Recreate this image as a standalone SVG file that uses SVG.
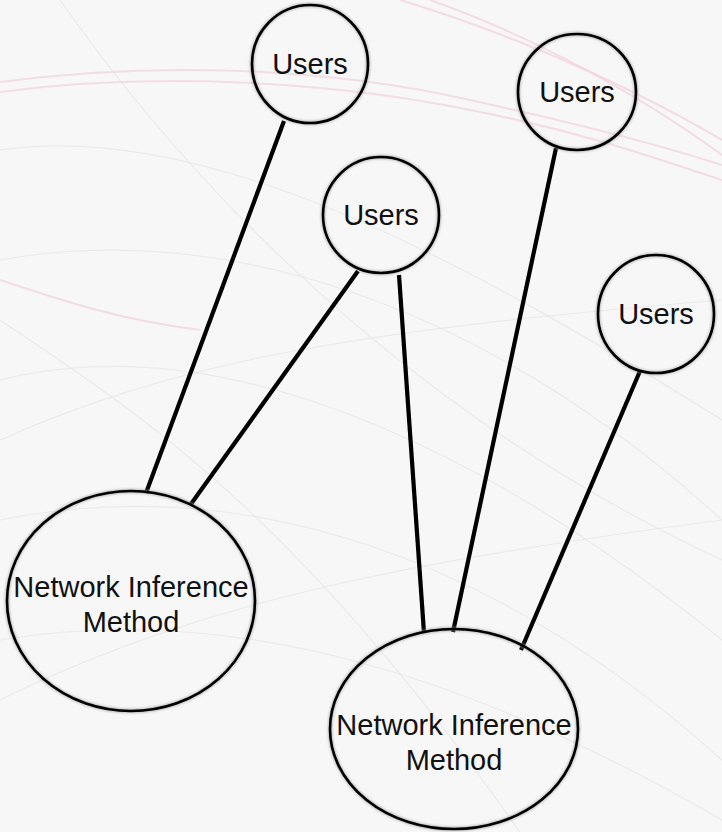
<svg xmlns="http://www.w3.org/2000/svg" width="722" height="832" viewBox="0 0 722 832">
  <defs>
    <style>
      .bg-g { fill: none; stroke: #e6e6e6; stroke-width: 1.2; opacity: 0.7; }
      .bg-p { fill: none; stroke: #f3d3de; stroke-width: 2; opacity: 0.75; }
      .node { fill: none; stroke: #000; stroke-width: 2.6; }
      .edge { stroke: #000; stroke-width: 4.2; stroke-linecap: butt; }
      .lbl { font-family: "Liberation Sans", Arial, Helvetica, sans-serif; font-size: 29px; fill: #111; text-anchor: middle; }
    </style>
    <filter id="sh" x="-10%" y="-10%" width="120%" height="120%">
      <feGaussianBlur stdDeviation="1.5"/>
    </filter>
  </defs>

  <!-- background -->
  <rect width="722" height="832" fill="#f7f7f7"/>
  <g id="background">
    <path class="bg-g" d="M0,150 C200,120 450,250 722,420"/>
    <path class="bg-g" d="M0,260 C220,220 480,300 722,520"/>
    <path class="bg-g" d="M0,380 C200,330 450,420 722,640"/>
    <path class="bg-g" d="M0,520 C250,470 500,560 722,760"/>
    <path class="bg-g" d="M0,640 C240,600 480,680 722,820"/>
    <path class="bg-g" d="M0,320 C150,420 300,520 520,832"/>
    <path class="bg-g" d="M60,0 C200,200 420,420 722,560"/>
    <path class="bg-g" d="M0,440 C180,360 360,330 722,300"/>
    <path class="bg-g" d="M0,700 C200,600 420,560 722,520"/>
    <path class="bg-p" d="M0,82 C150,62 320,66 470,100 C580,124 660,145 722,165"/>
    <path class="bg-p" d="M0,92 C150,72 330,80 480,112 C590,134 660,160 722,180"/>
    <path class="bg-p" d="M400,0 C500,30 620,80 722,140"/>
    <path class="bg-p" d="M430,0 C530,35 640,95 722,155"/>
    <path class="bg-p" d="M0,280 C60,300 120,320 200,330" opacity="0.4"/>
  </g>

  <!-- connectors -->
  <g id="connectors">
    <line class="edge" x1="284" y1="121" x2="146" y2="493"/>
    <line class="edge" x1="358" y1="271" x2="191" y2="504"/>
    <line class="edge" x1="399" y1="275" x2="424" y2="633"/>
    <line class="edge" x1="556" y1="148" x2="453" y2="632"/>
    <line class="edge" x1="640" y1="371" x2="521" y2="650"/>
  </g>

  <!-- nodes -->
  <g id="users1">
    <ellipse cx="310" cy="64" rx="58" ry="59" fill="none" stroke="#999" stroke-width="3" filter="url(#sh)"/>
    <ellipse class="node" cx="310" cy="64" rx="58" ry="59"/>
    <text class="lbl" x="310" y="74">Users</text>
  </g>
  <g id="users2">
    <ellipse cx="577" cy="92" rx="59" ry="58" fill="none" stroke="#999" stroke-width="3" filter="url(#sh)"/>
    <ellipse class="node" cx="577" cy="92" rx="59" ry="58"/>
    <text class="lbl" x="577" y="102">Users</text>
  </g>
  <g id="users3">
    <ellipse cx="381" cy="215" rx="58" ry="58" fill="none" stroke="#999" stroke-width="3" filter="url(#sh)"/>
    <ellipse class="node" cx="381" cy="215" rx="58" ry="58"/>
    <text class="lbl" x="381" y="225">Users</text>
  </g>
  <g id="users4">
    <ellipse cx="656" cy="314" rx="58" ry="59" fill="none" stroke="#999" stroke-width="3" filter="url(#sh)"/>
    <ellipse class="node" cx="656" cy="314" rx="58" ry="59"/>
    <text class="lbl" x="656" y="324">Users</text>
  </g>
  <g id="nim1">
    <ellipse cx="131" cy="601" rx="124" ry="110" fill="none" stroke="#999" stroke-width="3" filter="url(#sh)"/>
    <ellipse class="node" cx="131" cy="601" rx="124" ry="110"/>
    <text class="lbl" x="131" y="597">Network Inference</text>
    <text class="lbl" x="131" y="632">Method</text>
  </g>
  <g id="nim2">
    <ellipse cx="454" cy="729" rx="124" ry="100" fill="none" stroke="#999" stroke-width="3" filter="url(#sh)"/>
    <ellipse class="node" cx="454" cy="729" rx="124" ry="100"/>
    <text class="lbl" x="454" y="735">Network Inference</text>
    <text class="lbl" x="454" y="770">Method</text>
  </g>
</svg>
